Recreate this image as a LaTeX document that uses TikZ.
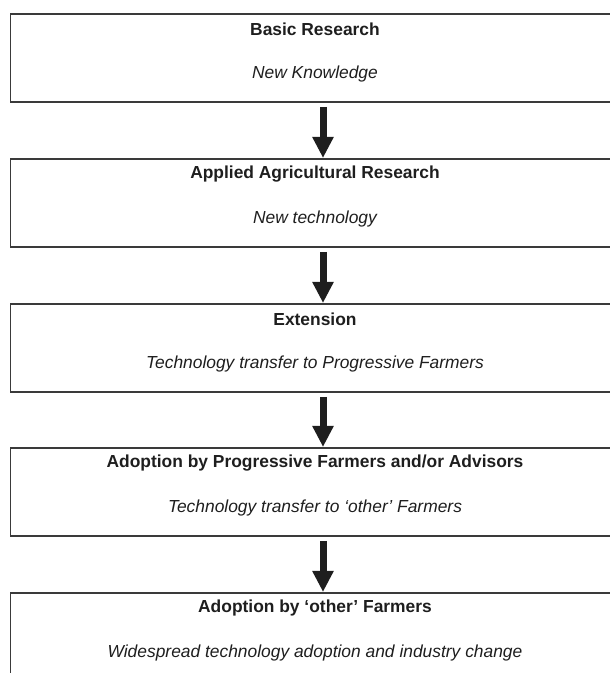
\documentclass[tikz,border=0pt]{standalone}
\usepackage{fontspec}
\setmainfont{Liberation Sans}
\usetikzlibrary{arrows.meta}
\definecolor{boxline}{HTML}{3A3A3A}
\definecolor{ink}{HTML}{1E1E1E}
\tikzset{
  stagebox/.style={draw=boxline, line width=1.8pt, rectangle, minimum width=611pt, minimum height=88pt, inner sep=0pt, anchor=north west},
  titletext/.style={font=\fontsize{17.4}{20}\selectfont\bfseries, text=ink, inner sep=0pt},
  subtext/.style={font=\fontsize{17.4}{20}\selectfont\itshape, text=ink, inner sep=0pt},
  flowarrow/.style={draw=ink, line width=7pt, -{Triangle[width=20pt,length=21pt]}},
}
\begin{document}
\begin{tikzpicture}[x=1pt,y=1pt]
\useasboundingbox (0,0) rectangle (610,673);
\clip (0,0) rectangle (610,673);
% boxes (top y in image pixels: 13,158,303,447,592)
\node[stagebox] (b1) at (9.5,660) {};
\node[stagebox] (b2) at (9.5,515) {};
\node[stagebox] (b3) at (9.5,370) {};
\node[stagebox] (b4) at (9.5,226) {};
\node[stagebox, minimum height=120pt] (b5) at (9.5,81) {};
% texts
\node[titletext] (t1) at (315,644) {Basic Research};
\node[subtext] (s1) at (315,599) {New Knowledge};
\node[titletext] (t2) at (315,499) {Applied Agricultural Research};
\node[subtext] (s2) at (315,454) {New technology};
\node[titletext] (t3) at (315,354) {Extension};
\node[subtext] (s3) at (315,309) {Technology transfer to Progressive Farmers};
\node[titletext] (t4) at (315,209.5) {Adoption by Progressive Farmers and/or Advisors};
\node[subtext] (s4) at (315,164.5) {Technology transfer to `other' Farmers};
\node[titletext] (t5) at (315,64.5) {Adoption by `other' Farmers};
\node[subtext] (s5) at (315,19.5) {Widespread technology adoption and industry change};
% arrows
\foreach \a/\b in {b1/b2, b2/b3, b3/b4, b4/b5}{
  \draw[flowarrow] ([yshift=-4pt]\a.south -| 323,0) -- (\b.north -| 323,0);
}
\end{tikzpicture}
\end{document}
